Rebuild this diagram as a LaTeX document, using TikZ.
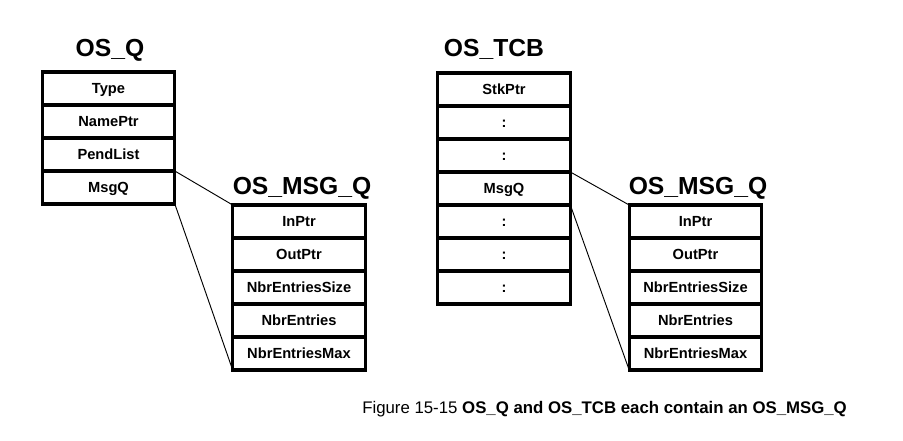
\documentclass[tikz,border=0pt]{standalone}
\usepackage{fontspec}
\setmainfont{Liberation Sans}
\usetikzlibrary{positioning}

\tikzset{
  field/.style={draw, line width=2.4pt, minimum width=99.5pt, minimum height=24.75pt,
    inner sep=0pt, outer sep=0pt, text height=8pt, text depth=0pt,
    font=\fontsize{11}{12}\selectfont\bfseries},
  title/.style={anchor=base, inner sep=0pt, font=\fontsize{18.5}{22}\selectfont\bfseries},
  link/.style={line width=0.7pt}
}

\begin{document}
\begin{tikzpicture}[x=0.75pt,y=-0.75pt]
    \useasboundingbox (0,0) rectangle (903,441);

    % OS_Q
    \node[title] (qtitle) at (110,57) {OS\_Q};
    \node[field] (q-type) at (108.5,88.5) {Type};
    \node[field, below=0pt of q-type] (q-name) {NamePtr};
    \node[field, below=0pt of q-name] (q-pend) {PendList};
    \node[field, below=0pt of q-pend] (q-msgq) {MsgQ};

    % OS_MSG_Q inside OS_Q
    \node[title] (qmtitle) at (302,195) {OS\_MSG\_Q};
    \node[field] (qm-in) at (299,221.5) {InPtr};
    \node[field, below=0pt of qm-in] (qm-out) {OutPtr};
    \node[field, below=0pt of qm-out] (qm-size) {NbrEntriesSize};
    \node[field, below=0pt of qm-size] (qm-nbr) {NbrEntries};
    \node[field, below=0pt of qm-nbr] (qm-max) {NbrEntriesMax};

    \draw[link] (q-msgq.north east) -- (qm-in.north west);
    \draw[link] (q-msgq.south east) -- (qm-max.south west);

    % OS_TCB
    \node[title] (ttitle) at (494,57) {OS\_TCB};
    \node[field] (t-stk) at (504,89.5) {StkPtr};
    \node[field, below=0pt of t-stk] (t-a) {:};
    \node[field, below=0pt of t-a] (t-b) {:};
    \node[field, below=0pt of t-b] (t-msgq) {MsgQ};
    \node[field, below=0pt of t-msgq] (t-c) {:};
    \node[field, below=0pt of t-c] (t-d) {:};
    \node[field, below=0pt of t-d] (t-e) {:};

    % OS_MSG_Q inside OS_TCB
    \node[title] (tmtitle) at (698,195) {OS\_MSG\_Q};
    \node[field] (tm-in) at (695.5,221.5) {InPtr};
    \node[field, below=0pt of tm-in] (tm-out) {OutPtr};
    \node[field, below=0pt of tm-out] (tm-size) {NbrEntriesSize};
    \node[field, below=0pt of tm-size] (tm-nbr) {NbrEntries};
    \node[field, below=0pt of tm-nbr] (tm-max) {NbrEntriesMax};

    \draw[link] (t-msgq.north east) -- (tm-in.north west);
    \draw[link] (t-msgq.south east) -- (tm-max.south west);

    % caption
    \node[anchor=base west, inner sep=0pt, font=\fontsize{12.6}{14}\selectfont] (caption) at (362,414)
        {Figure 15-15 \textbf{OS\_Q and OS\_TCB each contain an OS\_MSG\_Q}};
\end{tikzpicture}
\end{document}
